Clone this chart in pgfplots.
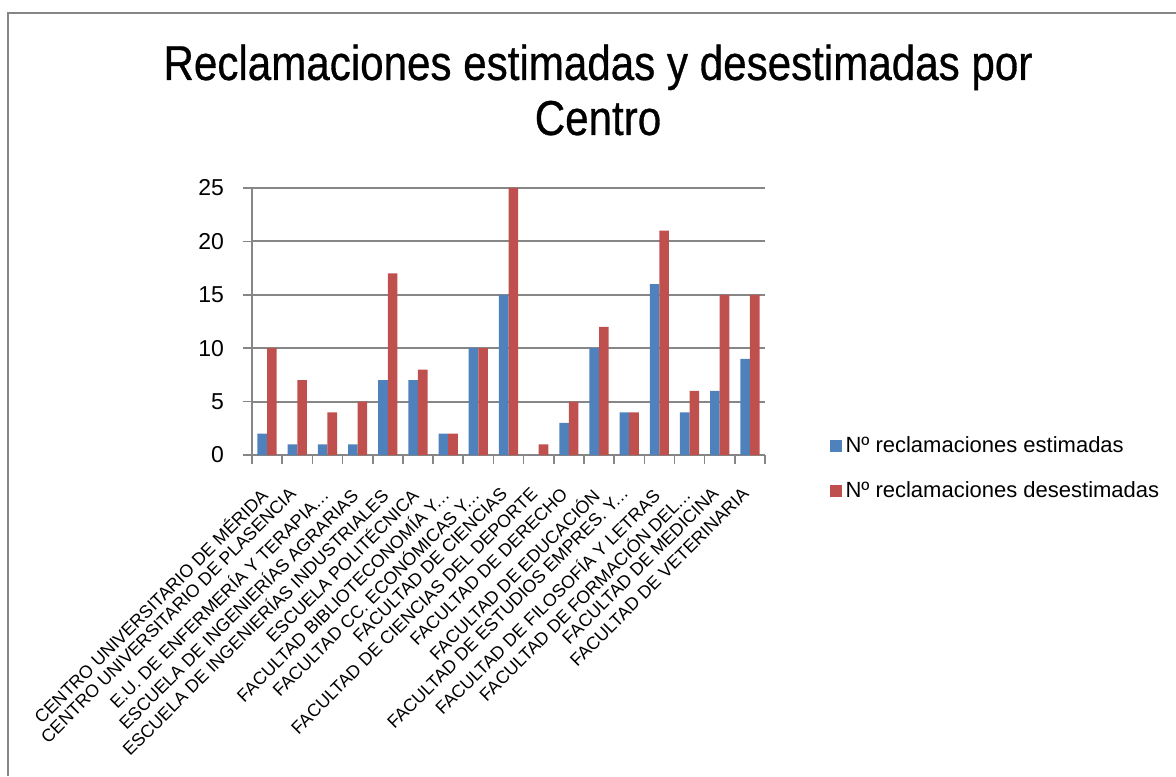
\documentclass[border=0pt]{standalone}
\usepackage{fontspec}
\setmainfont{Liberation Sans}
\newfontfamily\titlefont{Liberation Sans}[FakeStretch=0.86, FakeBold=0.6]
\usepackage{pgfplots}
\pgfplotsset{compat=1.18}
\definecolor{xlblue}{HTML}{4F81BD}
\definecolor{xlred}{HTML}{C0504D}
\definecolor{xlgray}{HTML}{868686}
\newcommand{\el}{.\kern0.3pt.\kern0.3pt.}

\begin{document}
\begin{tikzpicture}
\path[use as bounding box] (0pt,0pt) rectangle (588pt,388pt);
\draw[xlgray, line width=1pt] (4pt,0pt) -- (4pt,381.5pt) -- (588pt,381.5pt);
\node[anchor=base, font=\titlefont\fontsize{24.5}{27}\selectfont] at (299pt,348pt) {Reclamaciones estimadas y desestimadas por};
\node[anchor=base, font=\titlefont\fontsize{24.5}{27}\selectfont] at (299pt,320.5pt) {Centro};

\begin{axis}[
  at={(126pt,160.5pt)}, anchor=south west,
  scale only axis, width=256.5pt, height=133.5pt,
  xmin=-0.5, xmax=16.5, ymin=0, ymax=25,
  ybar=0pt, bar width=4.8pt,
  axis x line*=bottom, axis y line*=left,
  axis line style={xlgray, line width=0.9pt},
  tick align=outside, major tick length=4.5pt,
  tick style={xlgray, line width=0.8pt},
  ytick={0,5,...,25},
  ymajorgrids, grid style={xlgray, line width=0.9pt},
  /pgf/number format/assume math mode=true,
  yticklabel style={font=\fontsize{11.5}{13}\selectfont, xshift=-6pt},
  xtick={-0.5,0.5,...,16.5}, xticklabel={\null},
  extra x ticks={0,1,...,16},
  extra x tick style={major tick length=0pt, grid=none,
    xticklabel style={xshift=-4.5pt, yshift=-15.5pt, rotate=45,
      anchor=north east, inner sep=0pt,
      font=\fontsize{8.9}{10}\selectfont}},
  extra x tick labels={
    {CENTRO UNIVERSITARIO DE MÉRIDA},
    {CENTRO UNIVERSITARIO DE PLASENCIA},
    {E.U. DE ENFERMERÍA Y TERAPIA\el},
    {ESCUELA DE INGENIERÍAS AGRARIAS},
    {ESCUELA DE INGENIERÍAS INDUSTRIALES},
    {ESCUELA POLITÉCNICA},
    {FACULTAD BIBLIOTECONOMÍA Y\el},
    {FACULTAD CC. ECONÓMICAS Y\el},
    {FACULTAD DE CIENCIAS},
    {FACULTAD DE CIENCIAS DEL DEPORTE},
    {FACULTAD DE DERECHO},
    {FACULTAD DE EDUCACIÓN},
    {FACULTAD DE ESTUDIOS EMPRES. Y\el},
    {FACULTAD DE FILOSOFÍA Y LETRAS},
    {FACULTAD DE FORMACIÓN DEL\el},
    {FACULTAD DE MEDICINA},
    {FACULTAD DE VETERINARIA}},
  legend style={at={(rel axis cs:1.125,-0.052)}, anchor=west, draw=none, fill=none,
    font=\fontsize{11}{13}\selectfont, row sep=9pt, inner sep=0pt,
    cells={anchor=west}},
  legend image code/.code={\fill[#1] (0pt,-3pt) rectangle (6pt,3pt);},
]
\addplot[fill=xlblue, draw=none] coordinates {
  (0,2) (1,1) (2,1) (3,1) (4,7) (5,7) (6,2) (7,10) (8,15)
  (9,0) (10,3) (11,10) (12,4) (13,16) (14,4) (15,6) (16,9)};
\addlegendentry{Nº reclamaciones estimadas}
\addplot[fill=xlred, draw=none] coordinates {
  (0,10) (1,7) (2,4) (3,5) (4,17) (5,8) (6,2) (7,10) (8,25)
  (9,1) (10,5) (11,12) (12,4) (13,21) (14,6) (15,15) (16,15)};
\addlegendentry{Nº reclamaciones desestimadas}
\end{axis}
\end{tikzpicture}
\end{document}
